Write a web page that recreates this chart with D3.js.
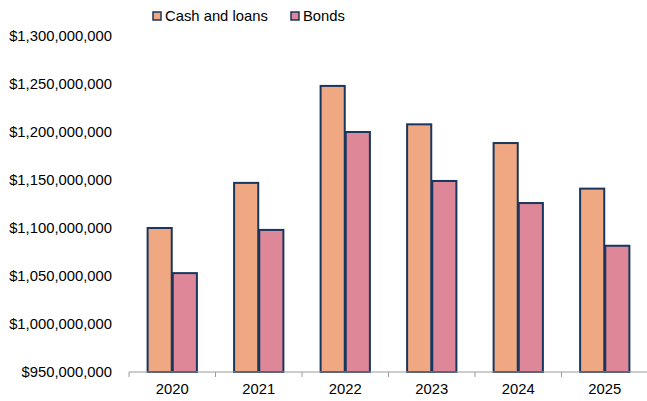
<!DOCTYPE html>
<html><head><meta charset="utf-8">
<script src="https://cdn.jsdelivr.net/npm/d3@7"></script>
<style>body{margin:0;background:#fff}svg{display:block;font-family:Arial,"Liberation Sans",sans-serif}</style>
</head><body><svg id="c" width="647" height="401"></svg>
<script>
const categories = ["2020","2021","2022","2023","2024","2025"];
const seriesNames = ["Cash and loans","Bonds"];
const cashLoans = [1100000000,1147000000,1248000000,1208000000,1188500000,1141000000];
const bonds = [1053000000,1098000000,1200000000,1149000000,1126000000,1081500000];
const yTicks = [950000000,1000000000,1050000000,1100000000,1150000000,1200000000,1250000000,1300000000];
const colors = ["#F0A882","#DD8798"];

const svg = d3.select("#c");
const x0 = d3.scaleBand().domain(categories).range([129,648]).padding(0);
const x1 = d3.scaleBand().domain(seriesNames).range([0, x0.bandwidth()]).paddingOuter(0.74).paddingInner(0.04);
const y = d3.scaleLinear().domain([950000000,1300000000]).range([372,36]);
const fmt = v => "$" + d3.format(",")(v);

// y labels
svg.append("g").selectAll("text").data(yTicks).join("text")
  .attr("x",112).attr("y",d=>y(d)).attr("dy","0.35em").attr("text-anchor","end")
  .attr("font-size",14.8).attr("fill","#000").text(fmt);

// bars
const data = categories.map((c,i)=>({cat:c, vals:[cashLoans[i],bonds[i]]}));
const g = svg.append("g");
data.forEach(d=>{
  d.vals.forEach((v,j)=>{
    g.append("rect").attr("x",x0(d.cat)+x1(seriesNames[j])).attr("y",y(v))
      .attr("width",x1.bandwidth()).attr("height",y(950000000)-y(v))
      .attr("fill",colors[j]).attr("stroke","#17375E").attr("stroke-width",2);
  });
});

// x axis
const ax = svg.append("g").attr("transform","translate(0,372)");
ax.append("line").attr("x1",129).attr("x2",648).attr("stroke","#9a9a9a").attr("stroke-width",1);
const bounds = categories.map(c=>x0(c)).concat([x0(categories[categories.length-1])+x0.bandwidth()]);
ax.selectAll("line.t").data(bounds).join("line").attr("class","t")
  .attr("x1",d=>d).attr("x2",d=>d).attr("y1",0).attr("y2",5).attr("stroke","#9a9a9a");
ax.selectAll("text").data(categories).join("text")
  .attr("x",d=>x0(d)+x0.bandwidth()/2).attr("y",22).attr("text-anchor","middle")
  .attr("font-size",14.8).attr("fill","#000").text(d=>d);

// legend
const lg = svg.append("g");
const lx = [153,291];
seriesNames.forEach((n,j)=>{
  lg.append("rect").attr("x",lx[j]).attr("y",12).attr("width",8).attr("height",8)
    .attr("fill",colors[j]).attr("stroke","#17375E").attr("stroke-width",1.5);
  lg.append("text").attr("x",lx[j]+12).attr("y",16).attr("dy","0.35em")
    .attr("font-size",14.8).attr("fill","#000").text(n);
});
</script></body></html>
